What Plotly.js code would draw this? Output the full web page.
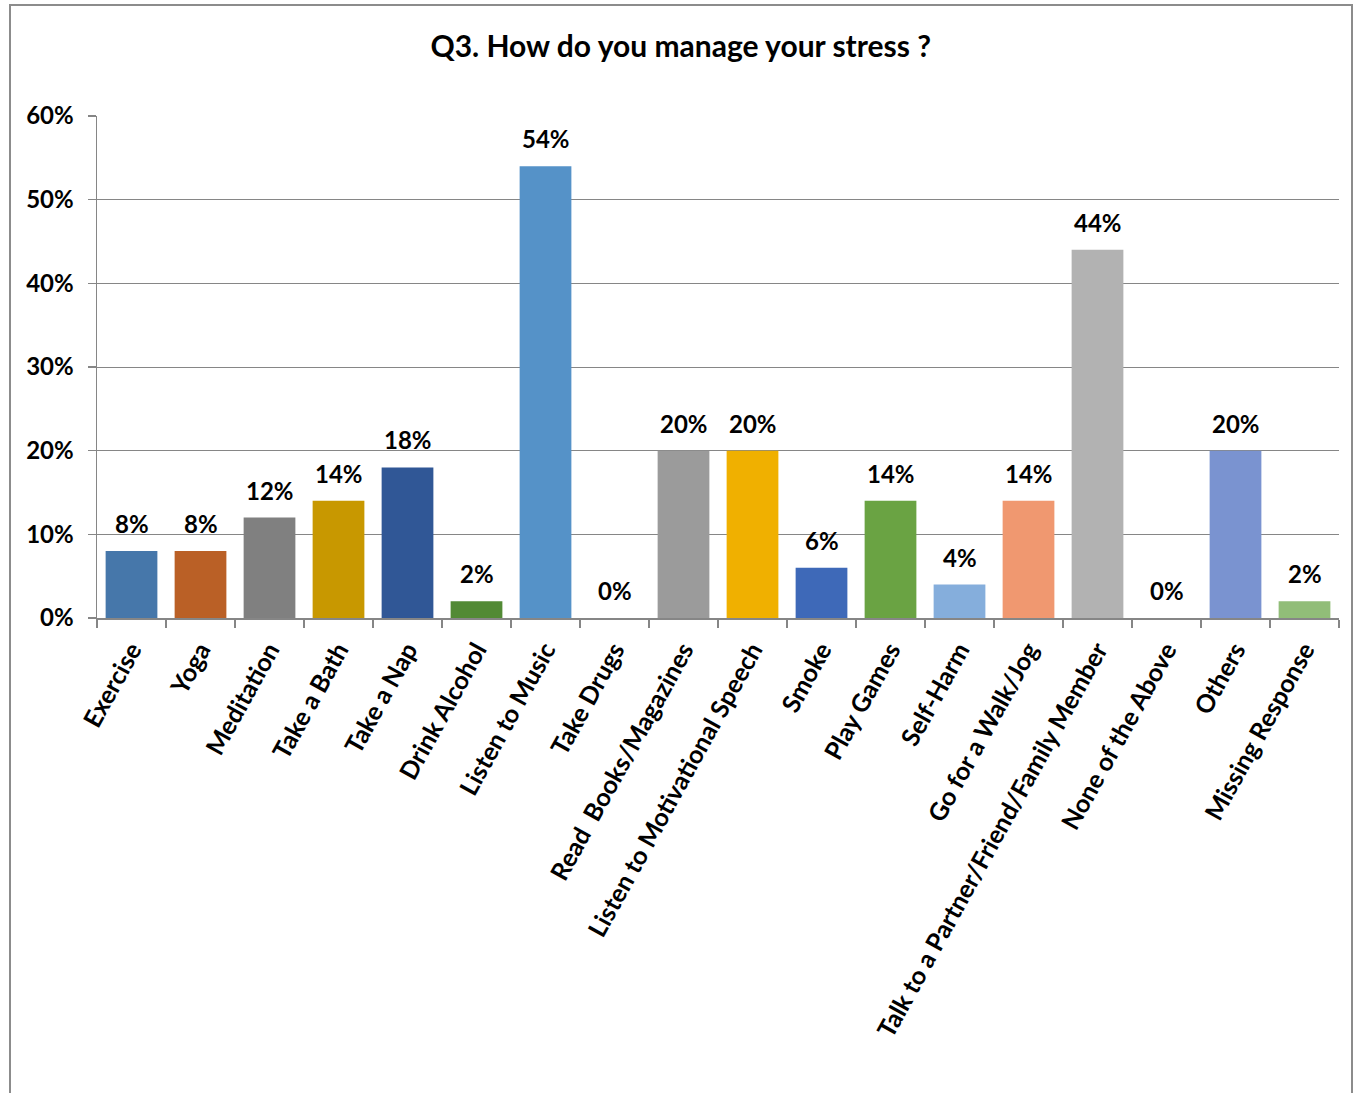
<!DOCTYPE html>
<html>
<head>
<meta charset="utf-8">
<script src="https://cdn.plot.ly/plotly-3.0.1.min.js"></script>
<style>html,body{margin:0;padding:0;background:#fff;}#chart{width:1356px;height:1093px;}</style>
</head>
<body>
<div id="chart"></div>
<script>
const categories = ["Exercise","Yoga","Meditation","Take a Bath","Take a Nap","Drink Alcohol","Listen to Music","Take Drugs","Read  Books/Magazines","Listen to Motivational Speech","Smoke","Play Games","Self-Harm","Go for a Walk/Jog","Talk to a Partner/Friend/Family Member","None of the Above","Others","Missing Response"];
const percentages = [8,8,12,14,18,2,54,0,20,20,6,14,4,14,44,0,20,2];
const barColors = ["#4677AA","#BA6026","#808080","#C89800","#305796","#528A35","#5592C8","#A0A0A0","#9B9B9B","#F0B000","#3E69B8","#6AA343","#85AEDC","#F09870","#B2B2B2","#A0A0A0","#7A93D0","#91BD78"];
const yTickValues = [0,10,20,30,40,50,60];
const yTickLabels = ["0%","10%","20%","30%","40%","50%","60%"];

const FONT = "Lato, 'Open Sans', sans-serif";
const trace = {
  type: "bar",
  x: categories,
  y: percentages,
  marker: {color: barColors},
  hoverinfo: "x+y"
};
const annotations = categories.map((c, i) => ({
  x: c, y: percentages[i], xref: "x", yref: "y",
  text: "<b>" + percentages[i] + "%</b>",
  showarrow: false, yanchor: "bottom", yshift: 11,
  font: {family: FONT, size: 24, color: "#000"}
}));
const layout = {
  width: 1356, height: 1093,
  margin: {l: 97, r: 17, t: 116, b: 475},
  paper_bgcolor: "#fff", plot_bgcolor: "#fff",
  bargap: 0.25,
  showlegend: false,
  font: {family: FONT, color: "#000"},
  title: {text: "<b>Q3. How do you manage your stress ?</b>", font: {family: FONT, size: 30, color: "#000"},
          x: 0.502, xref: "container", xanchor: "center", y: 1 - 46/1093, yref: "container", yanchor: "middle"},
  xaxis: {
    type: "category",
    tickangle: -61,
    tickvals: categories,
    ticktext: categories.map(c => "<b>" + c + "</b>"),
    tickfont: {family: FONT, size: 25, color: "#000"},
    ticks: "outside", tickson: "boundaries", ticklen: 8, tickcolor: "#868686", tickwidth: 1.5,
    ticklabelstandoff: 6,
    showline: true, linecolor: "#868686", linewidth: 1.5,
    showgrid: false, automargin: false
  },
  yaxis: {
    range: [0, 60],
    tickvals: yTickValues, ticktext: yTickLabels.map(t => "<b>" + t + "</b>"),
    tickfont: {family: FONT, size: 24, color: "#000"},
    ticks: "outside", ticklen: 8, tickcolor: "#868686", tickwidth: 1.5, ticklabelstandoff: 9,
    showline: true, linecolor: "#868686", linewidth: 1.5,
    showgrid: true, gridcolor: "#868686", gridwidth: 1,
    zeroline: false, automargin: false
  },
  annotations: annotations,
  shapes: [{
    type: "rect", xref: "paper", yref: "paper",
    x0: (10 - 97) / 1242, x1: (1352 - 97) / 1242,
    y0: (618 - 1110) / 502, y1: 1 + (116 - 5) / 502,
    line: {color: "#8c8c8c", width: 2}, layer: "below"
  }]
};
Plotly.newPlot("chart", [trace], layout, {displayModeBar: false, staticPlot: true});
</script>
</body>
</html>
